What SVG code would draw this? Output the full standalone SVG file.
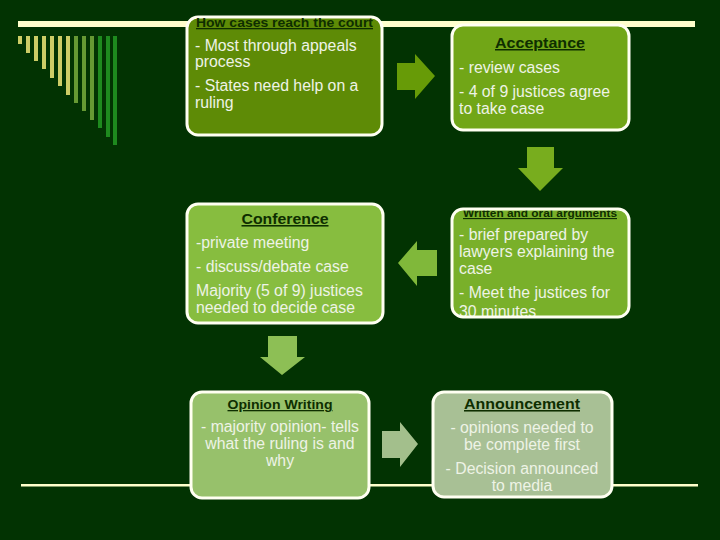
<svg xmlns="http://www.w3.org/2000/svg" width="720" height="540" viewBox="0 0 720 540">
<style>
.bg{fill:#023302}
.bar{fill:#FFFFCC}
.box{stroke:#FFFFF2;stroke-width:3}
.edge{fill:none;stroke:#FFFFF2;stroke-width:3}
.t{font-family:"Liberation Sans",Arial,sans-serif;font-size:15.8px;fill:#EEF3E6}
.h{font-family:"Liberation Sans",Arial,sans-serif;font-weight:bold;fill:#0E2E00;text-decoration:underline}
.c{text-anchor:middle}
</style>
<defs>
<clipPath id="clip4"><rect x="452" y="209" width="177" height="107" rx="10"/></clipPath>
</defs>
<rect class="bg" x="0" y="0" width="720" height="540"/>
<g id="decor">
<rect class="bar" x="18" y="21" width="677" height="6"/>
<rect x="21" y="484" width="677" height="2.5" fill="#FFFFCC"/>
<g id="stripes">
<rect x="18" y="36" width="4" height="8" fill="#CCCC66"/>
<rect x="26" y="36" width="4" height="17" fill="#CCCC66"/>
<rect x="34" y="36" width="4" height="25" fill="#CCCC66"/>
<rect x="42" y="36" width="4" height="33" fill="#CCCC66"/>
<rect x="50" y="36" width="4" height="42" fill="#CCCC66"/>
<rect x="58" y="36" width="4" height="50" fill="#CCCC66"/>
<rect x="66" y="36" width="4" height="59" fill="#CCCC66"/>
<rect x="74" y="36" width="4" height="67" fill="#669933"/>
<rect x="82" y="36" width="4" height="75" fill="#669933"/>
<rect x="90" y="36" width="4" height="84" fill="#669933"/>
<rect x="98" y="36" width="4" height="92" fill="#1E8A1E"/>
<rect x="106" y="36" width="4" height="101" fill="#1E8A1E"/>
<rect x="113" y="36" width="4" height="109" fill="#1E8A1E"/>
</g>
</g>
<g id="connectors">
<path d="M397,63 H415 V54 L435,76 L415,99 V90 H397 Z" fill="#679B07"/>
<path d="M527,147 H554 V168 H563 L540,191 L518,168 H527 Z" fill="#78AD1E"/>
<path d="M437,250 H417 V241 L398,263 L417,286 V276 H437 Z" fill="#80B83A"/>
<path d="M268,336 H297 V357 H305 L282,375 L260,357 H268 Z" fill="#8DBF55"/>
<path d="M382,431 H400 V422 L418,444 L400,467 V458 H382 Z" fill="#A3BF8C"/>
</g>
<g id="node-reach">
<rect class="box" x="187" y="17" width="195" height="118" rx="11" fill="#5E8B06"/>
<text class="h" x="196" y="27" font-size="13" textLength="177" lengthAdjust="spacingAndGlyphs">How cases reach the court</text>
<text class="t" x="195" y="51">- Most through  appeals</text>
<text class="t" x="195" y="67">process</text>
<text class="t" x="195" y="91">- States need help on a</text>
<text class="t" x="195" y="108">ruling</text>
</g>
<g id="node-acceptance">
<rect class="box" x="452" y="25" width="177" height="105" rx="11" fill="#71A617"/>
<text class="h c" x="540" y="48" font-size="15" textLength="90" lengthAdjust="spacingAndGlyphs">Acceptance</text>
<text class="t" x="459" y="73">- review cases</text>
<text class="t" x="459" y="97">- 4 of 9 justices agree</text>
<text class="t" x="459" y="114">to take case</text>
</g>
<g id="node-arguments">
<rect x="452" y="209" width="177" height="108" rx="11" fill="#79B02A"/>
<g clip-path="url(#clip4)">
<text class="h" x="463" y="217" font-size="11.5" textLength="154" lengthAdjust="spacingAndGlyphs">Written and oral arguments</text>
<text class="t" x="459" y="240">- brief prepared by</text>
<text class="t" x="459" y="257">lawyers explaining the</text>
<text class="t" x="459" y="274">case</text>
<text class="t" x="459" y="298">- Meet the justices for</text>
<text class="t" x="459" y="317">30 minutes</text>
</g>
<rect class="edge" x="452" y="209" width="177" height="108" rx="11"/>
</g>
<g id="node-conference">
<rect class="box" x="187" y="204" width="196" height="119" rx="11" fill="#87BD3F"/>
<text class="h c" x="285" y="224" font-size="15.5" textLength="87" lengthAdjust="spacingAndGlyphs">Conference</text>
<text class="t" x="196" y="248">-private meeting</text>
<text class="t" x="196" y="272">- discuss/debate case</text>
<text class="t" x="196" y="296">Majority (5 of 9) justices</text>
<text class="t" x="196" y="313">needed to decide case</text>
</g>
<g id="node-opinion">
<rect class="box" x="191" y="392" width="178" height="106" rx="11" fill="#97C16B"/>
<text class="h c" x="280" y="409" font-size="13" textLength="105" lengthAdjust="spacingAndGlyphs">Opinion Writing</text>
<text class="t c" x="280" y="432">- majority opinion- tells</text>
<text class="t c" x="280" y="449">what the ruling is and</text>
<text class="t c" x="280" y="466">why</text>
</g>
<g id="node-announcement">
<rect class="box" x="433" y="392" width="179" height="105" rx="11" fill="#A8C095"/>
<text class="h c" x="522" y="409" font-size="15.5" textLength="116" lengthAdjust="spacingAndGlyphs">Announcement</text>
<text class="t c" x="522" y="433">- opinions needed to</text>
<text class="t c" x="522" y="450">be complete first</text>
<text class="t c" x="522" y="474">- Decision announced</text>
<text class="t c" x="522" y="491">to media</text>
</g>
</svg>
